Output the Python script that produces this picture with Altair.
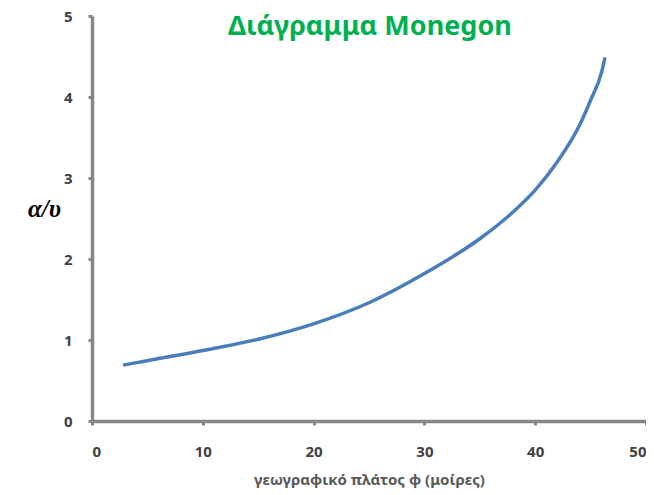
import altair as alt
import pandas as pd

phi = [2.8, 5, 10, 15, 20, 25, 30, 35, 38, 40, 42, 44, 45, 46, 46.3]
ratio = [0.69, 0.745, 0.87, 1.01, 1.20, 1.46, 1.82, 2.25, 2.58, 2.85, 3.20, 3.65, 3.96, 4.31, 4.49]

df = pd.DataFrame({"phi": phi, "ratio": ratio})

axis_common = dict(
    grid=False,
    domainColor="#878787",
    domainWidth=3.5,
    tickColor="#878787",
    tickWidth=3,
    tickSize=4,
    labelFont="Noto Sans",
    labelFontWeight="bold",
    labelFontSize=15,
    labelColor="#404040",
)

line = alt.Chart(df).mark_line(color="#4A7EBB", strokeWidth=3.5, interpolate="monotone").encode(
    x=alt.X("phi:Q",
            scale=alt.Scale(domain=[0, 50], nice=False),
            axis=alt.Axis(values=[0, 10, 20, 30, 40, 50], title="γεωγραφικό πλάτος φ (μοίρες)",
                          titleFont="Noto Sans", titleFontSize=15, titleFontWeight="bold",
                          titleColor="#595959", labelPadding=19, titlePadding=13,
                          **axis_common)),
    y=alt.Y("ratio:Q",
            scale=alt.Scale(domain=[0, 5], nice=False),
            axis=alt.Axis(values=[0, 1, 2, 3, 4, 5], title="α/υ",
                          titleFont="Liberation Serif", titleFontSize=25, titleFontStyle="italic",
                          titleFontWeight="bold", titleColor="#000000", titleAngle=0,
                          titleAlign="center", titleBaseline="middle",
                          titleX=-48, titleY=192, labelPadding=16,
                          **axis_common)),
)

chart = line.properties(
    width=554,
    height=405,
    autosize=alt.AutoSizeParams(type="none"),
    padding={"left": 84, "top": 8, "right": 0, "bottom": 70},
    title=alt.TitleParams(
        text="Διάγραμμα Monegon",
        font="Noto Sans",
        fontSize=27,
        fontWeight="bold",
        color="#00B050",
        anchor="start",
        frame="group",
        dx=136,
        dy=36,
    ),
).configure_view(stroke=None)

chart.save("out.html", embed_options={"renderer": "svg", "actions": False})
